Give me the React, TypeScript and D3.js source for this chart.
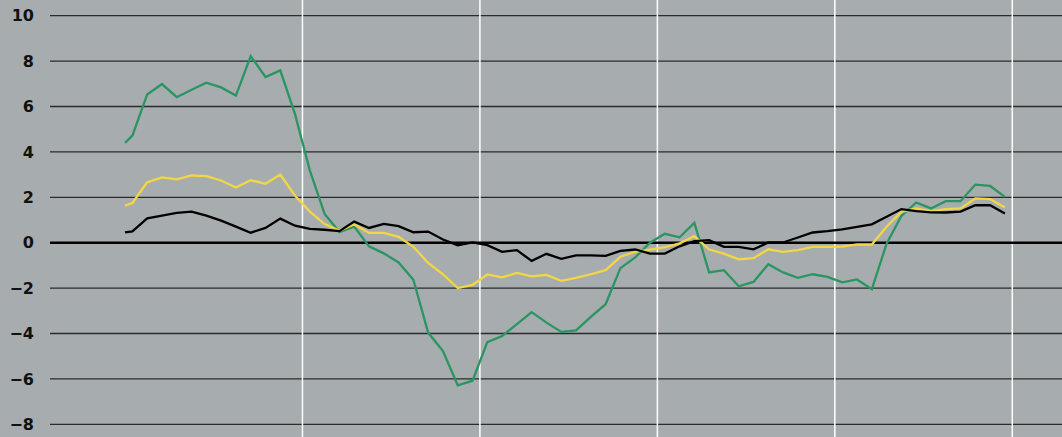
import React from "react";
import * as d3 from "d3";

// month offsets relative to the first vertical divider (0), 12 per year
const months: number[] = [-12, ...d3.range(-11.5, 48, 1)];

const greenValues: number[] = [
  4.4, 4.72, 6.53, 6.99, 6.41, 6.74, 7.05, 6.84, 6.48, 8.22, 7.3, 7.59, 5.65,
  3.18, 1.27, 0.47, 0.71, -0.16, -0.47, -0.87, -1.63, -3.96, -4.77, -6.28, -6.08,
  -4.38, -4.11, -3.59, -3.06, -3.52, -3.93, -3.86, -3.27, -2.71, -1.12, -0.65, 0.0,
  0.39, 0.24, 0.87, -1.31, -1.21, -1.92, -1.73, -0.95, -1.31, -1.55, -1.39, -1.51,
  -1.75, -1.62, -2.05, -0.04, 1.18, 1.77, 1.51, 1.83, 1.83, 2.56, 2.5, 2.02,
];

const yellowValues: number[] = [
  1.63, 1.75, 2.66, 2.88, 2.79, 2.96, 2.93, 2.74, 2.43, 2.75, 2.6, 3.0, 2.07,
  1.37, 0.82, 0.53, 0.81, 0.43, 0.43, 0.26, -0.18, -0.89, -1.39, -2.0, -1.86,
  -1.4, -1.53, -1.33, -1.48, -1.42, -1.68, -1.55, -1.39, -1.21, -0.62, -0.4, -0.31,
  -0.2, -0.03, 0.29, -0.3, -0.48, -0.73, -0.68, -0.29, -0.4, -0.33, -0.18, -0.18,
  -0.17, -0.07, -0.08, 0.7, 1.36, 1.51, 1.39, 1.48, 1.51, 1.95, 1.92, 1.55,
];

const blackValues: number[] = [
  0.45, 0.5, 1.07, 1.19, 1.31, 1.37, 1.19, 0.97, 0.71, 0.44, 0.65, 1.06, 0.75,
  0.61, 0.57, 0.51, 0.93, 0.65, 0.83, 0.73, 0.46, 0.49, 0.14, -0.11, 0.01,
  -0.11, -0.4, -0.33, -0.8, -0.49, -0.71, -0.56, -0.56, -0.58, -0.36, -0.3, -0.48,
  -0.48, -0.16, 0.07, 0.11, -0.18, -0.18, -0.29, 0.01, 0.01, 0.23, 0.45, 0.51,
  0.59, 0.7, 0.81, 1.14, 1.48, 1.39, 1.34, 1.33, 1.37, 1.65, 1.65, 1.29,
];

const yTicks: number[] = [10, 8, 6, 4, 2, 0, -2, -4, -6, -8];
const dividers: number[] = [0, 12, 24, 36, 48];

const series = [
  { name: "green", values: greenValues, color: "#2a9562" },
  { name: "yellow", values: yellowValues, color: "#f3d644" },
  { name: "black", values: blackValues, color: "#000000" },
];

const W = 1062;
const H = 437;

export default function App() {
  const x = d3.scaleLinear().domain([-12, 48]).range([125, 1012.3]);
  const y = d3.scaleLinear().domain([-8, 10]).range([424.3, 15.7]);
  const line = d3
    .line<number>()
    .x((_, i) => x(months[i]))
    .y((d) => y(d));

  return (
    <svg
      width={W}
      height={H}
      style={{ position: "absolute", left: 0, top: 0, display: "block" }}
    >
      <rect x={0} y={0} width={W} height={H} fill="#a7acaf" />
      {yTicks
        .filter((t) => t !== 0)
        .map((t) => (
          <line
            key={t}
            x1={50}
            x2={W}
            y1={y(t)}
            y2={y(t)}
            stroke="#2b2b2b"
            strokeWidth={1.3}
          />
        ))}
      {dividers.map((d) => (
        <line
          key={d}
          x1={x(d)}
          x2={x(d)}
          y1={0}
          y2={H}
          stroke="#ffffff"
          strokeWidth={1.5}
        />
      ))}
      <line x1={50} x2={W} y1={y(0)} y2={y(0)} stroke="#000" strokeWidth={2.6} />
      {series.map((s) => (
        <path
          key={s.name}
          d={line(s.values) || ""}
          fill="none"
          stroke={s.color}
          strokeWidth={2.3}
          strokeLinejoin="miter"
        />
      ))}
      {yTicks.map((t) => (
        <text
          key={t}
          x={34}
          y={y(t)}
          dy="0.36em"
          textAnchor="end"
          fontFamily="'DejaVu Sans', sans-serif"
          fontWeight="bold"
          fontSize={16}
          fill="#111"
        >
          {t < 0 ? "\u2212" + Math.abs(t) : String(t)}
        </text>
      ))}
    </svg>
  );
}
